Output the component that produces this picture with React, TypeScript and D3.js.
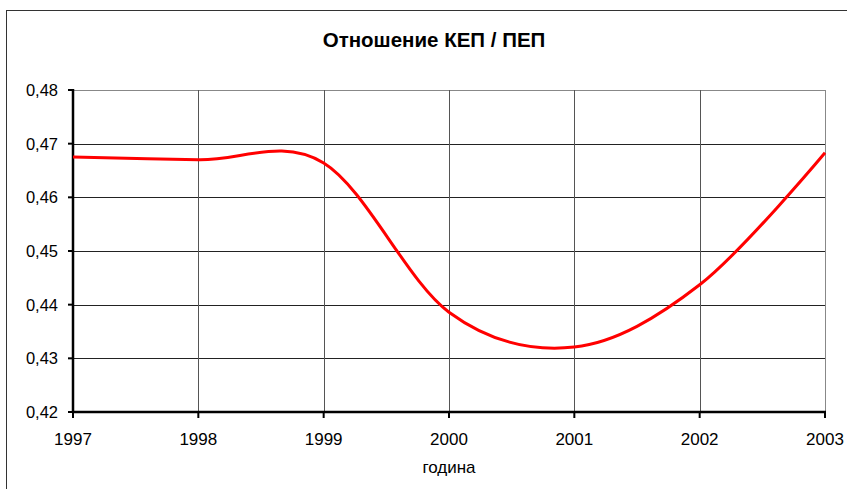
import { useEffect, useRef } from "react";
import * as d3 from "d3";

const years = [1997, 1998, 1999, 2000, 2001, 2002, 2003];
const ratio = [0.4675, 0.467, 0.4664, 0.4386, 0.4321, 0.4437, 0.4683];
const yTicks = [0.42, 0.43, 0.44, 0.45, 0.46, 0.47, 0.48];

const title = "Отношение КЕП / ПЕП";
const xTitle = "година";

export default function App() {
  const ref = useRef<SVGSVGElement>(null);

  useEffect(() => {
    const svg = d3.select(ref.current);
    svg.selectAll("*").remove();

    const left = 73, right = 825, top = 90, bottom = 412;
    const font = "Arial, 'Liberation Sans', sans-serif";

    const x = d3.scaleLinear().domain([1997, 2003]).range([left, right]);
    const y = d3.scaleLinear().domain([0.42, 0.48]).range([bottom, top]);

    // рамка диаграммы
    svg.append("rect")
      .attr("x", 6.5).attr("y", 10.5)
      .attr("width", 900).attr("height", 600)
      .attr("fill", "white").attr("stroke", "#333").attr("stroke-width", 1);

    // сетка
    const grid = svg.append("g");
    yTicks.forEach((t) => {
      grid.append("line")
        .attr("x1", left).attr("x2", right)
        .attr("y1", Math.round(y(t)) + 0.5).attr("y2", Math.round(y(t)) + 0.5)
        .attr("stroke", t === 0.48 ? "#888" : "#222").attr("stroke-width", 1);
    });
    years.forEach((yr) => {
      grid.append("line")
        .attr("x1", Math.round(x(yr)) + 0.5).attr("x2", Math.round(x(yr)) + 0.5)
        .attr("y1", top).attr("y2", bottom)
        .attr("stroke", yr === 2003 ? "#888" : "#555").attr("stroke-width", 1);
    });

    // оси
    svg.append("line")
      .attr("x1", left).attr("x2", left)
      .attr("y1", top - 1).attr("y2", bottom + 1)
      .attr("stroke", "#000").attr("stroke-width", 2.5);
    svg.append("line")
      .attr("x1", left - 1).attr("x2", right + 1)
      .attr("y1", bottom).attr("y2", bottom)
      .attr("stroke", "#000").attr("stroke-width", 2.5);

    yTicks.forEach((t) => {
      svg.append("line")
        .attr("x1", left - 5).attr("x2", left)
        .attr("y1", y(t)).attr("y2", y(t))
        .attr("stroke", "#000").attr("stroke-width", 2);
      svg.append("text")
        .attr("x", left - 15).attr("y", y(t) + 6)
        .attr("text-anchor", "end")
        .attr("font-family", font).attr("font-size", 16.5)
        .text(d3.format(".2f")(t).replace(".", ","));
    });
    years.forEach((yr) => {
      svg.append("line")
        .attr("x1", x(yr)).attr("x2", x(yr))
        .attr("y1", bottom).attr("y2", bottom + 6)
        .attr("stroke", "#000").attr("stroke-width", 2);
      svg.append("text")
        .attr("x", x(yr)).attr("y", 445)
        .attr("text-anchor", "middle")
        .attr("font-family", font).attr("font-size", 17)
        .text(yr);
    });

    svg.append("text")
      .attr("x", x(2000)).attr("y", 473)
      .attr("text-anchor", "middle")
      .attr("font-family", font).attr("font-size", 17)
      .text(xTitle);

    svg.append("text")
      .attr("x", 434).attr("y", 47)
      .attr("text-anchor", "middle")
      .attr("font-family", font).attr("font-size", 20.5).attr("font-weight", "bold")
      .text(title);

    const line = d3.line<number>()
      .x((_, i) => x(years[i]))
      .y((d) => y(d))
      .curve(d3.curveCardinal.tension(0));

    svg.append("path")
      .datum(ratio)
      .attr("d", line)
      .attr("fill", "none")
      .attr("stroke", "#ff0000")
      .attr("stroke-width", 3);
  }, []);

  return (
    <svg
      ref={ref}
      width={847}
      height={489}
      style={{ position: "absolute", left: 0, top: 0, background: "white" }}
    />
  );
}
